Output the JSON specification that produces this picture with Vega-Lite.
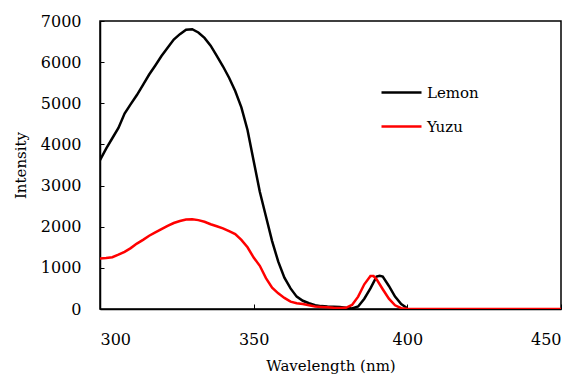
{
  "$schema": "https://vega.github.io/schema/vega-lite/v6.json",
  "width": 461,
  "height": 288,
  "autosize": {"type": "none"},
  "padding": {"left": 100, "top": 21, "right": 18, "bottom": 67},
  "background": "white",
  "config": {
    "view": {"stroke": "black", "strokeWidth": 1.5},
    "font": "DejaVu Serif",
    "axis": {
      "grid": false,
      "domainColor": "black",
      "domainWidth": 1.5,
      "tickColor": "black",
      "tickWidth": 1,
      "labelFont": "DejaVu Serif",
      "titleFont": "DejaVu Serif",
      "labelColor": "black",
      "titleColor": "black",
      "labelFontSize": 16,
      "titleFontSize": 15,
      "titleFontWeight": "normal"
    },
    "legend": {
      "labelFont": "DejaVu Serif",
      "labelFontSize": 15,
      "labelColor": "black"
    }
  },
  "data": {
    "values": [
      {"wl": 300, "I": 3620, "s": "Lemon"}, {"wl": 302, "I": 3900, "s": "Lemon"}, {"wl": 304, "I": 4150, "s": "Lemon"},
      {"wl": 306, "I": 4400, "s": "Lemon"}, {"wl": 308, "I": 4750, "s": "Lemon"}, {"wl": 310, "I": 4980, "s": "Lemon"},
      {"wl": 312, "I": 5200, "s": "Lemon"}, {"wl": 314, "I": 5450, "s": "Lemon"}, {"wl": 316, "I": 5700, "s": "Lemon"},
      {"wl": 318, "I": 5920, "s": "Lemon"}, {"wl": 320, "I": 6150, "s": "Lemon"}, {"wl": 322, "I": 6350, "s": "Lemon"},
      {"wl": 324, "I": 6550, "s": "Lemon"}, {"wl": 326, "I": 6680, "s": "Lemon"}, {"wl": 328, "I": 6790, "s": "Lemon"},
      {"wl": 330, "I": 6800, "s": "Lemon"}, {"wl": 332, "I": 6720, "s": "Lemon"}, {"wl": 334, "I": 6590, "s": "Lemon"},
      {"wl": 336, "I": 6400, "s": "Lemon"}, {"wl": 338, "I": 6150, "s": "Lemon"}, {"wl": 340, "I": 5900, "s": "Lemon"},
      {"wl": 342, "I": 5620, "s": "Lemon"}, {"wl": 344, "I": 5300, "s": "Lemon"}, {"wl": 346, "I": 4900, "s": "Lemon"},
      {"wl": 348, "I": 4350, "s": "Lemon"}, {"wl": 350, "I": 3600, "s": "Lemon"}, {"wl": 352, "I": 2850, "s": "Lemon"},
      {"wl": 354, "I": 2250, "s": "Lemon"}, {"wl": 356, "I": 1650, "s": "Lemon"}, {"wl": 358, "I": 1150, "s": "Lemon"},
      {"wl": 360, "I": 760, "s": "Lemon"}, {"wl": 362, "I": 500, "s": "Lemon"}, {"wl": 364, "I": 300, "s": "Lemon"},
      {"wl": 366, "I": 200, "s": "Lemon"}, {"wl": 368, "I": 140, "s": "Lemon"}, {"wl": 370, "I": 90, "s": "Lemon"},
      {"wl": 372, "I": 70, "s": "Lemon"}, {"wl": 374, "I": 60, "s": "Lemon"}, {"wl": 376, "I": 55, "s": "Lemon"},
      {"wl": 378, "I": 50, "s": "Lemon"}, {"wl": 380, "I": 30, "s": "Lemon"}, {"wl": 382, "I": 15, "s": "Lemon"},
      {"wl": 384, "I": 60, "s": "Lemon"}, {"wl": 386, "I": 250, "s": "Lemon"}, {"wl": 388, "I": 500, "s": "Lemon"},
      {"wl": 390, "I": 790, "s": "Lemon"}, {"wl": 391, "I": 810, "s": "Lemon"}, {"wl": 392, "I": 790, "s": "Lemon"},
      {"wl": 394, "I": 560, "s": "Lemon"}, {"wl": 396, "I": 300, "s": "Lemon"}, {"wl": 398, "I": 120, "s": "Lemon"},
      {"wl": 400, "I": 20, "s": "Lemon"},
      {"wl": 300, "I": 1230, "s": "Yuzu"}, {"wl": 302, "I": 1240, "s": "Yuzu"}, {"wl": 304, "I": 1260, "s": "Yuzu"},
      {"wl": 306, "I": 1320, "s": "Yuzu"}, {"wl": 308, "I": 1390, "s": "Yuzu"}, {"wl": 310, "I": 1480, "s": "Yuzu"},
      {"wl": 312, "I": 1590, "s": "Yuzu"}, {"wl": 314, "I": 1680, "s": "Yuzu"}, {"wl": 316, "I": 1780, "s": "Yuzu"},
      {"wl": 318, "I": 1860, "s": "Yuzu"}, {"wl": 320, "I": 1940, "s": "Yuzu"}, {"wl": 322, "I": 2020, "s": "Yuzu"},
      {"wl": 324, "I": 2090, "s": "Yuzu"}, {"wl": 326, "I": 2140, "s": "Yuzu"}, {"wl": 328, "I": 2175, "s": "Yuzu"},
      {"wl": 330, "I": 2180, "s": "Yuzu"}, {"wl": 332, "I": 2160, "s": "Yuzu"}, {"wl": 334, "I": 2120, "s": "Yuzu"},
      {"wl": 336, "I": 2060, "s": "Yuzu"}, {"wl": 338, "I": 2010, "s": "Yuzu"}, {"wl": 340, "I": 1960, "s": "Yuzu"},
      {"wl": 342, "I": 1890, "s": "Yuzu"}, {"wl": 344, "I": 1820, "s": "Yuzu"}, {"wl": 346, "I": 1680, "s": "Yuzu"},
      {"wl": 348, "I": 1500, "s": "Yuzu"}, {"wl": 350, "I": 1250, "s": "Yuzu"}, {"wl": 352, "I": 1050, "s": "Yuzu"},
      {"wl": 354, "I": 750, "s": "Yuzu"}, {"wl": 356, "I": 520, "s": "Yuzu"}, {"wl": 358, "I": 380, "s": "Yuzu"},
      {"wl": 360, "I": 270, "s": "Yuzu"}, {"wl": 362, "I": 180, "s": "Yuzu"}, {"wl": 364, "I": 140, "s": "Yuzu"},
      {"wl": 366, "I": 120, "s": "Yuzu"}, {"wl": 368, "I": 90, "s": "Yuzu"}, {"wl": 370, "I": 60, "s": "Yuzu"},
      {"wl": 372, "I": 50, "s": "Yuzu"}, {"wl": 374, "I": 40, "s": "Yuzu"}, {"wl": 376, "I": 30, "s": "Yuzu"},
      {"wl": 378, "I": 25, "s": "Yuzu"}, {"wl": 380, "I": 30, "s": "Yuzu"}, {"wl": 382, "I": 100, "s": "Yuzu"},
      {"wl": 384, "I": 300, "s": "Yuzu"}, {"wl": 386, "I": 600, "s": "Yuzu"}, {"wl": 388, "I": 800, "s": "Yuzu"},
      {"wl": 389, "I": 800, "s": "Yuzu"}, {"wl": 390, "I": 720, "s": "Yuzu"}, {"wl": 392, "I": 480, "s": "Yuzu"},
      {"wl": 394, "I": 250, "s": "Yuzu"}, {"wl": 396, "I": 90, "s": "Yuzu"}, {"wl": 398, "I": 20, "s": "Yuzu"},
      {"wl": 400, "I": 5, "s": "Yuzu"}, {"wl": 410, "I": 0, "s": "Yuzu"}, {"wl": 420, "I": 0, "s": "Yuzu"},
      {"wl": 430, "I": 0, "s": "Yuzu"}, {"wl": 440, "I": 0, "s": "Yuzu"}, {"wl": 450, "I": 0, "s": "Yuzu"}
    ]
  },
  "mark": {"type": "line", "strokeWidth": 2.5, "clip": true},
  "encoding": {
    "x": {
      "field": "wl", "type": "quantitative",
      "scale": {"domain": [300, 450], "nice": false, "zero": false},
      "axis": {"title": "Wavelength (nm)", "values": [300, 350, 400, 450], "format": "d", "tickSize": -5, "labelPadding": 27, "titlePadding": 11}
    },
    "y": {
      "field": "I", "type": "quantitative",
      "scale": {"domain": [0, 7000], "nice": false},
      "axis": {"title": "Intensity", "values": [0, 1000, 2000, 3000, 4000, 5000, 6000, 7000], "format": "d", "tickSize": -4, "labelPadding": 23, "titlePadding": 12}
    },
    "color": {
      "field": "s", "type": "nominal",
      "scale": {"domain": ["Lemon", "Yuzu"], "range": ["#000000", "#ff0000"]},
      "legend": {"title": null, "orient": "none", "legendX": 280, "legendY": 50, "symbolType": "stroke", "symbolSize": 1600, "symbolStrokeWidth": 2.5, "rowPadding": 4, "labelOffset": 4}
    }
  }
}
